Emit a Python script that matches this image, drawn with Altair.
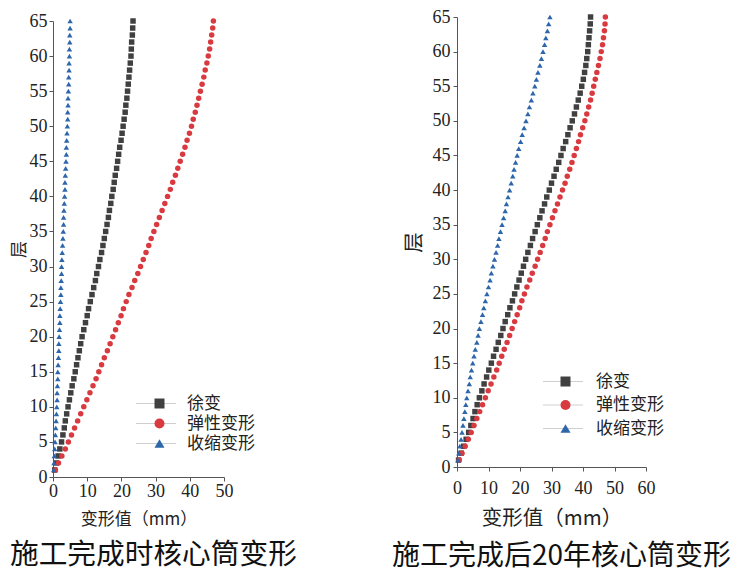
import altair as alt
import pandas as pd

# ---------------- data ----------------
floors = list(range(1, 66))
SERIES = ["徐变", "弹性变形", "收缩变形"]
GUIDE_KEYS = [s + " " for s in SERIES]      # keys of the line part of the legend
COLORS = ["#404040", "#d83a40", "#2e66ab"]
SHAPES = ["square", "circle", "triangle-up"]
LINE_GRAY = "#cfcfcf"

# 施工完成时
creep_a = [0.5, 1.0, 1.5, 2.0, 2.5, 2.9, 3.3, 3.6, 4.0, 4.4,
           4.8, 5.2, 5.6, 6.1, 6.5, 6.9, 7.3, 7.7, 8.1, 8.5,
           9.0, 9.5, 10.0, 10.4, 10.9, 11.4, 11.9, 12.4, 12.8, 13.3,
           13.7, 14.2, 14.6, 15.0, 15.4, 15.8, 16.2, 16.5, 16.9, 17.2,
           17.6, 17.9, 18.2, 18.6, 18.9, 19.2, 19.5, 19.9, 20.2, 20.5,
           20.8, 21.1, 21.3, 21.6, 21.8, 22.0, 22.2, 22.4, 22.6, 22.8,
           22.9, 23.0, 23.2, 23.3, 23.4]
elastic_a = [0.7, 1.6, 2.6, 3.6, 4.5, 5.4, 6.3, 7.2, 8.1, 9.0,
             9.9, 10.8, 11.7, 12.6, 13.4, 14.2, 15.0, 15.9, 16.7, 17.5,
             18.3, 19.1, 19.9, 20.6, 21.4, 22.2, 23.1, 23.9, 24.8, 25.6,
             26.4, 27.2, 28.0, 28.7, 29.5, 30.3, 31.1, 31.9, 32.7, 33.5,
             34.3, 35.0, 35.8, 36.5, 37.2, 37.9, 38.6, 39.2, 39.9, 40.5,
             41.0, 41.6, 42.1, 42.6, 43.1, 43.6, 44.1, 44.5, 45.0, 45.4,
             45.8, 46.1, 46.4, 46.7, 46.9]
shrink_a = [0.2, 0.3, 0.4, 0.5, 0.6, 0.7, 0.8, 0.9, 1.0, 1.1,
            1.2, 1.2, 1.3, 1.4, 1.4, 1.5, 1.6, 1.7, 1.7, 1.8,
            1.9, 2.0, 2.0, 2.1, 2.2, 2.3, 2.3, 2.4, 2.5, 2.5,
            2.6, 2.7, 2.8, 2.9, 3.0, 3.1, 3.1, 3.2, 3.3, 3.4,
            3.5, 3.5, 3.6, 3.7, 3.8, 3.9, 3.9, 4.0, 4.1, 4.2,
            4.3, 4.3, 4.4, 4.4, 4.5, 4.6, 4.6, 4.7, 4.7, 4.8,
            4.8, 4.9, 4.9, 5.0, 5.0]

# 施工完成后20年
creep_b = [0.5, 1.3, 2.1, 2.9, 3.7, 4.4, 5.1, 5.7, 6.4, 7.1,
           7.9, 8.6, 9.4, 10.1, 10.9, 11.6, 12.4, 13.1, 13.9, 14.6,
           15.3, 16.1, 16.8, 17.6, 18.3, 19.0, 19.7, 20.4, 21.1, 21.8,
           22.5, 23.3, 24.0, 24.8, 25.5, 26.3, 27.0, 27.8, 28.5, 29.3,
           30.0, 30.8, 31.5, 32.3, 33.0, 33.7, 34.5, 35.2, 35.9, 36.6,
           37.3, 37.9, 38.5, 39.1, 39.6, 40.1, 40.5, 40.9, 41.2, 41.5,
           41.7, 41.9, 42.1, 42.3, 42.4]
elastic_b = [0.7, 1.6, 2.6, 3.6, 4.5, 5.4, 6.3, 7.2, 8.1, 9.0,
             9.9, 10.8, 11.7, 12.6, 13.4, 14.2, 15.0, 15.9, 16.7, 17.5,
             18.3, 19.1, 19.9, 20.6, 21.4, 22.2, 23.1, 23.9, 24.8, 25.6,
             26.4, 27.2, 28.0, 28.7, 29.5, 30.3, 31.1, 31.9, 32.7, 33.5,
             34.3, 35.0, 35.8, 36.5, 37.2, 37.9, 38.6, 39.2, 39.9, 40.6,
             41.2, 41.8, 42.4, 42.9, 43.4, 43.9, 44.4, 44.9, 45.4, 45.8,
             46.2, 46.5, 46.8, 47.0, 47.1]
shrink_b = [0.3, 0.6, 0.9, 1.3, 1.6, 1.9, 2.2, 2.5, 2.8, 3.1,
            3.5, 3.9, 4.2, 4.6, 5.0, 5.4, 5.8, 6.3, 6.7, 7.1,
            7.6, 8.1, 8.5, 9.0, 9.5, 10.0, 10.5, 10.9, 11.4, 11.9,
            12.4, 12.9, 13.3, 13.8, 14.3, 14.8, 15.3, 15.7, 16.2, 16.7,
            17.2, 17.7, 18.1, 18.6, 19.1, 19.6, 20.2, 20.7, 21.3, 21.9,
            22.5, 23.0, 23.6, 24.1, 24.7, 25.2, 25.7, 26.3, 26.8, 27.3,
            27.8, 28.2, 28.7, 29.1, 29.5]

x_ticks_a = [0, 10, 20, 30, 40, 50]
x_ticks_b = [0, 10, 20, 30, 40, 50, 60]
y_ticks = list(range(0, 66, 5))

CJK = "Noto Sans CJK SC"
SERIF = "Liberation Serif"


def long_table(creep, elastic, shrink):
    rows = []
    for name, vals in zip(SERIES, [creep, elastic, shrink]):
        for f, v in zip(floors, vals):
            rows.append({"series": name, "floor": f, "value": v})
    return pd.DataFrame(rows)


def panel(df, xmax, xticks, caption, w, h, yrange, ax, lg, cap):
    xs = alt.X("value:Q", scale=alt.Scale(domain=[0, xmax], nice=False),
               axis=alt.Axis(values=xticks, title="变形值（mm）", titleFontSize=ax["tfs"],
                             labelFlush=False,
                             titlePadding=ax["xtp"], labelPadding=ax["xlp"]))
    ys = alt.Y("floor:Q", scale=alt.Scale(domain=[0, 65], nice=False, range=yrange),
               axis=alt.Axis(values=y_ticks, title="层", titleFontSize=ax["tfs"],
                             labelFlush=False,
                             titlePadding=ax["ytp"], labelPadding=ax["ylp"]))
    marker_leg = alt.Legend(title=None, orient="none", legendX=lg["mx"], legendY=lg["y"],
                            clipHeight=lg["h"], rowPadding=lg["rp"], labelExpr="''",
                            labelFontSize=17, labelFont=CJK, symbolOffset=0, padding=0)
    line_leg = alt.Legend(title=None, orient="none", legendX=lg["lx"], legendY=lg["y"],
                          clipHeight=lg["h"], rowPadding=lg["rp"], symbolType="stroke",
                          symbolSize=1600, symbolStrokeWidth=1.2, labelFontSize=17,
                          labelFont=CJK, labelColor="#222", labelOffset=lg["lo"],
                          symbolOffset=0, padding=0)
    guide_df = pd.DataFrame({"guide": GUIDE_KEYS, "value": [0, 0, 0], "floor": [0, 0, 0]})
    guide = alt.Chart(guide_df).mark_line(strokeWidth=1.2).encode(
        x=xs, y=ys,
        stroke=alt.Stroke("guide:N", scale=alt.Scale(domain=GUIDE_KEYS, range=[LINE_GRAY] * 3),
                          legend=line_leg))
    pts = alt.Chart(df).mark_point(filled=True, size=30, opacity=1).encode(
        x=xs, y=ys,
        color=alt.Color("series:N", scale=alt.Scale(domain=SERIES, range=COLORS), legend=marker_leg),
        shape=alt.Shape("series:N", scale=alt.Scale(domain=SERIES, range=SHAPES), legend=marker_leg))
    return alt.layer(guide, pts).properties(
        width=w, height=h,
        title=alt.TitleParams(caption, orient="bottom", anchor="start", frame="bounds",
                              fontSize=cap["fs"], font=CJK, fontWeight="normal", color="#111",
                              offset=cap["off"], dx=cap["dx"]))


left = panel(long_table(creep_a, elastic_a, shrink_a), 50, x_ticks_a, "施工完成时核心筒变形",
             171, 460, [460, 4],
             {"xtp": 11, "xlp": 1.5, "ytp": 1, "ylp": 2, "tfs": 17},
             {"mx": 98, "lx": 82, "y": 378, "h": 17, "rp": 2, "lo": 10},
             {"off": 13, "dx": 0, "fs": 28.7})
right = panel(long_table(creep_b, elastic_b, shrink_b), 60, x_ticks_b, "施工完成后20年核心筒变形",
              189, 450, [450, 0],
              {"xtp": 11, "xlp": 8, "ytp": 8, "ylp": 3, "tfs": 20.5},
              {"mx": 100, "lx": 85, "y": 356, "h": 17, "rp": 5.5, "lo": 12},
              {"off": 14, "dx": -12, "fs": 28})

chart = alt.hconcat(left, right, spacing=95).resolve_scale(
    color="independent", shape="independent", stroke="independent"
).resolve_legend(
    color="independent", shape="independent", stroke="independent"
).properties(
    padding={"left": 2, "top": 0, "right": 0, "bottom": 0}, background="white"
).configure_view(stroke=None).configure_axis(
    grid=False, domainColor="#555", tickColor="#555", tickSize=4,
    labelFont=SERIF, labelFontSize=18, labelColor="#222",
    titleFont=CJK, titleFontSize=17, titleFontWeight="normal", titleColor="#222"
)

chart.save("out.html", embed_options={"renderer": "svg", "actions": False})
